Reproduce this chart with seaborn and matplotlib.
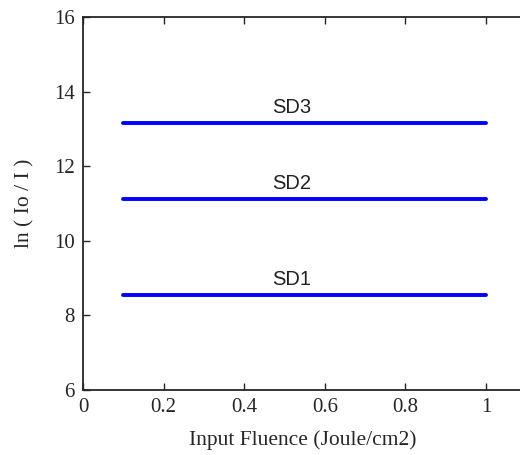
import numpy as np
import pandas as pd
import matplotlib
matplotlib.use("Agg")
import matplotlib.pyplot as plt
import seaborn as sns

# data
fluence = [0.1, 1.0]
sd1 = [8.55, 8.55]
sd2 = [11.12, 11.12]
sd3 = [13.16, 13.16]
names = ["SD1", "SD2", "SD3"]

df = pd.DataFrame({
    "fluence": fluence * 3,
    "lnI": sd1 + sd2 + sd3,
    "sample": [n for n in names for _ in fluence],
})

sns.set_style("ticks")
plt.rcParams["font.family"] = ["Liberation Serif", "DejaVu Serif"]

fig = plt.figure(figsize=(5.2, 4.55), dpi=100)
# right spine sits just past the image edge, as in the original
ax = fig.add_axes([83 / 520, 1 - 390 / 455, 439 / 520, 373 / 455])

sns.lineplot(data=df, x="fluence", y="lnI", hue="sample",
             palette=["#0000ff"] * 3, linewidth=2.8, legend=False, ax=ax)

for n, vals in zip(names, [sd1, sd2, sd3]):
    ax.text(0.47, vals[0] + 0.15, n, family="Liberation Sans",
            fontsize=14.5, color="#222222", va="bottom", ha="left")

ax.set_xlim(0, 439 / 403)
ax.set_ylim(6, 16)
ax.set_xticks([0, 0.2, 0.4, 0.6, 0.8, 1])
ax.set_xticklabels(["0", "0.2", "0.4", "0.6", "0.8", "1"])
ax.set_yticks([6, 8, 10, 12, 14, 16])
ax.tick_params(direction="in", top=True, right=False, length=5,
               width=1, labelsize=15, pad=6)
for s in ax.spines.values():
    s.set_linewidth(1.3)
ax.set_xlabel("Input Fluence (Joule/cm2)", fontsize=15.5, labelpad=9)
ax.set_ylabel("ln ( Io / I )", fontsize=15.5, labelpad=14)

fig.savefig("out.png", dpi=100)
